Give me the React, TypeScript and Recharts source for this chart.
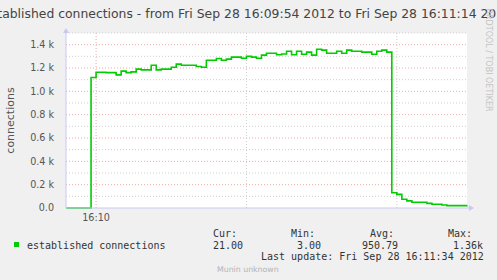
import React from "react";
import { LineChart, Line, XAxis, YAxis, CartesianGrid, ReferenceLine } from "recharts";

// seconds since 16:09:54
const seconds = [
  0, 1, 2, 3, 4, 5, 6, 7, 8, 9, 10, 11, 12, 13, 14, 15, 16, 17, 18, 19, 20,
  21, 22, 23, 24, 25, 26, 27, 28, 29, 30, 31, 32, 33, 34, 35, 36, 37, 38, 39, 40,
  41, 42, 43, 44, 45, 46, 47, 48, 49, 50, 51, 52, 53, 54, 55, 56, 57, 58, 59, 60,
  61, 62, 63, 64, 65, 66, 67, 68, 69, 70, 71, 72, 73, 74, 75, 76, 77, 78, 79, 80,
];

const connections = [
  0, 0, 0, 0, 0, 1118, 1164, 1164, 1160, 1160, 1141, 1173, 1160, 1167, 1190, 1184, 1184, 1224, 1184, 1190, 1190,
  1207, 1233, 1224, 1224, 1224, 1213, 1207, 1267, 1267, 1281, 1267, 1276, 1293, 1293, 1284, 1301, 1293, 1284, 1310, 1327,
  1327, 1313, 1320, 1344, 1313, 1344, 1318, 1336, 1310, 1361, 1353, 1327, 1327, 1344, 1327, 1353, 1344, 1344, 1336, 1336,
  1318, 1344, 1353, 1336, 131, 117, 75, 61, 49, 49, 49, 40, 32, 32, 26, 20, 20, 20, 20, 21,
];

const yTicks = [0, 200, 400, 600, 800, 1000, 1200, 1400];
const yTickLabels = ["0.0", "0.2 k", "0.4 k", "0.6 k", "0.8 k", "1.0 k", "1.2 k", "1.4 k"];
const yMinor = [100, 300, 500, 700, 900, 1100, 1300, 1500];
const xTicks = [6];
const xTickLabels = ["16:10"];
const xMinor = [36, 66];

const legendHeads = ["Cur:", "Min:", "Avg:", "Max:"];
const legendValues = ["21.00", "3.00", "950.79", "1.36k"];

const data = seconds.map((t, i) => ({ t, v: connections[i] }));

const MAJOR = "#eeaaaa";
const MINOR = "#cfcfcf";
const AXIS = "#c8c8f4";
const mono = "'DejaVu Sans Mono', monospace";

export default function App() {
  const headX = [213, 291, 370, 448];
  const valX = [213, 297, 362, 453];
  return (
    <div style={{ position: "absolute", left: 0, top: 0, width: 497, height: 280, background: "#f0f0f0", overflow: "hidden", fontFamily: "'DejaVu Sans', sans-serif" }}>
      {/* title, wider than the image so both ends get cut */}
      <div style={{ position: "absolute", left: -100, top: 6, width: 695, textAlign: "center", whiteSpace: "nowrap", fontSize: 12.4, color: "#444", lineHeight: "16px" }}>
        Established connections - from Fri Sep 28 16:09:54 2012 to Fri Sep 28 16:11:14 2012
      </div>
      <LineChart width={497} height={280} data={data} margin={{ top: 33, right: 30, bottom: 52, left: 8 }} style={{ position: "absolute", left: 0, top: 0 }}>
        <CartesianGrid fill="#ffffff" horizontal={false} vertical={false} />
        {yMinor.map((y) => (
          <ReferenceLine key={"ym" + y} y={y} stroke={MINOR} strokeDasharray="1 2" />
        ))}
        {yTicks.slice(1).map((y) => (
          <ReferenceLine key={"yM" + y} y={y} stroke={MAJOR} strokeDasharray="1 2" />
        ))}
        {xMinor.map((x) => (
          <ReferenceLine key={"xm" + x} x={x} stroke={MINOR} strokeDasharray="1 2" />
        ))}
        {xTicks.map((x) => (
          <ReferenceLine key={"xM" + x} x={x} stroke={MAJOR} strokeDasharray="1 2" />
        ))}
        <XAxis
          type="number"
          dataKey="t"
          domain={[0, 80]}
          ticks={xTicks}
          tickFormatter={(v) => xTickLabels[xTicks.indexOf(v)] ?? ""}
          height={20}
          axisLine={{ stroke: AXIS }}
          tickLine={false}
          tickMargin={0}
          tick={{ fill: "#555", fontSize: 9.6 }}
        />
        <YAxis
          domain={[0, 1500]}
          ticks={yTicks}
          interval={0}
          tickFormatter={(v) => yTickLabels[yTicks.indexOf(v)] ?? ""}
          width={58}
          axisLine={{ stroke: AXIS }}
          tickLine={false}
          tickMargin={6}
          tick={{ fill: "#555", fontSize: 9.6 }}
          label={{ value: "connections", angle: -90, position: "insideLeft", offset: 2, fill: "#555", fontSize: 11, style: { textAnchor: "middle" } }}
        />
        <Line type="stepAfter" dataKey="v" stroke="#00cc00" strokeWidth={1.6} dot={false} isAnimationActive={false} />
      </LineChart>
      <svg width={497} height={280} style={{ position: "absolute", left: 0, top: 0, pointerEvents: "none" }}>
        <line x1={467} y1={208} x2={470} y2={208} stroke={AXIS} />
        <polygon points="469,205 474,208 469,211" fill={AXIS} />
        <polygon points="63,33 66,28 69,33" fill={AXIS} />
        <text x={488} y={60} transform="rotate(90 488 60)" textAnchor="middle" dominantBaseline="middle" fontSize={8} fill="#c4c4c4">
          RRDTOOL / TOBI OETIKER
        </text>
      </svg>
      <div style={{ position: "absolute", left: 14, top: 242, width: 5, height: 5, background: "#00cc00" }} />
      <div style={{ position: "absolute", left: 27, top: 240, fontFamily: mono, fontSize: 10, lineHeight: "12px", color: "#333", whiteSpace: "pre" }}>
        established connections
      </div>
      {legendHeads.map((h, i) => (
        <div key={h} style={{ position: "absolute", left: headX[i], top: 228, fontFamily: mono, fontSize: 10, lineHeight: "12px", color: "#333", whiteSpace: "pre" }}>
          {h}
        </div>
      ))}
      {legendValues.map((v, i) => (
        <div key={v} style={{ position: "absolute", left: valX[i], top: 240, fontFamily: mono, fontSize: 10, lineHeight: "12px", color: "#333", whiteSpace: "pre" }}>
          {v}
        </div>
      ))}
      <div style={{ position: "absolute", left: 261, top: 251, fontFamily: mono, fontSize: 10, lineHeight: "12px", color: "#333", whiteSpace: "pre" }}>
        Last update: Fri Sep 28 16:11:34 2012
      </div>
      <div style={{ position: "absolute", left: 217, top: 265, fontSize: 7.8, lineHeight: "10px", color: "#b4b4b4", whiteSpace: "pre" }}>
        Munin unknown
      </div>
    </div>
  );
}
